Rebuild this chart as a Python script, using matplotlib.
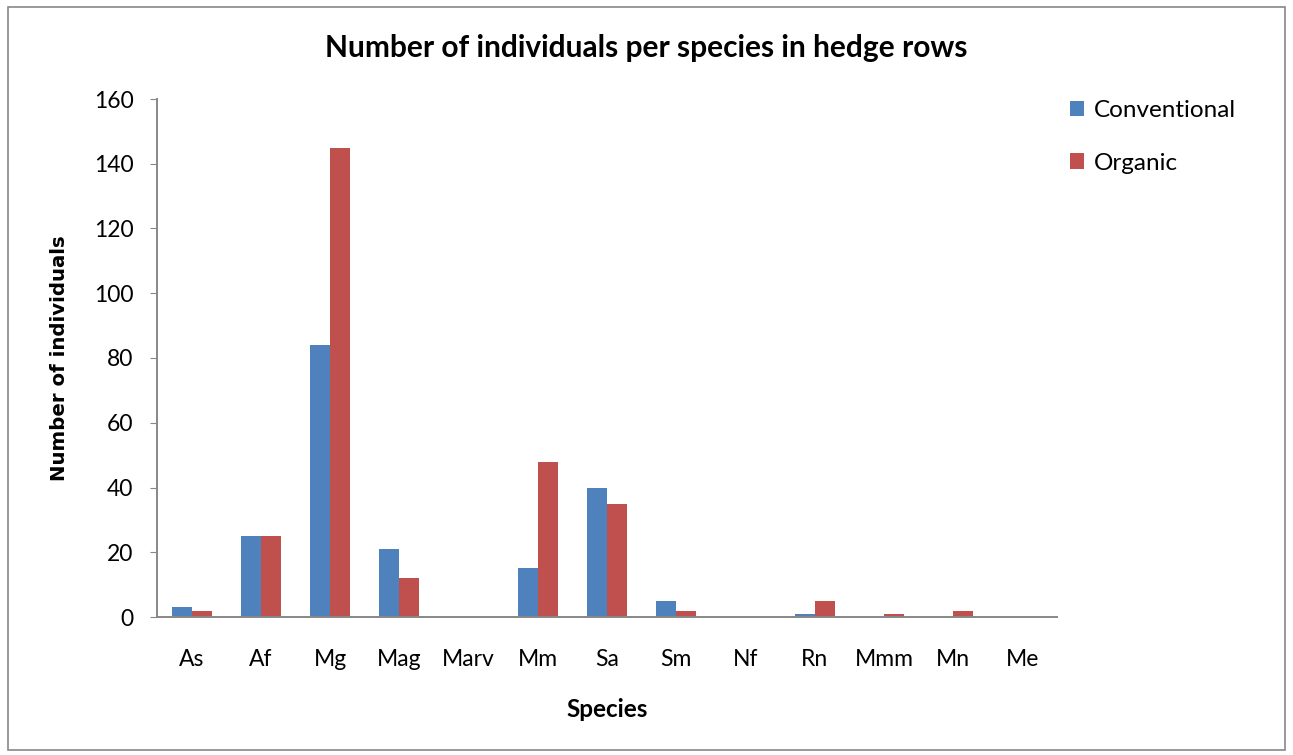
import matplotlib.pyplot as plt
from matplotlib.patches import Rectangle
import numpy as np

species = ["As", "Af", "Mg", "Mag", "Marv", "Mm", "Sa", "Sm", "Nf", "Rn", "Mmm", "Mn", "Me"]
conventional = [3, 25, 84, 21, 0, 15, 40, 5, 0, 1, 0, 0, 0]
organic = [2, 25, 145, 12, 0, 48, 35, 2, 0, 5, 1, 2, 0]

plt.rcParams['font.family'] = ['Lato', 'DejaVu Sans']

fig = plt.figure(figsize=(12.93, 7.55), dpi=100)
ax = fig.add_axes([157 / 1293, 1 - 617 / 755, 900 / 1293, 518 / 755])

x = np.arange(len(species))
w = 0.29
ax.bar(x - w / 2, conventional, w, color="#4F81BD", label="Conventional")
ax.bar(x + w / 2, organic, w, color="#C0504D", label="Organic")

ax.set_xlim(-0.5, len(species) - 0.5)
ax.set_ylim(0, 160)
ax.set_yticks(range(0, 161, 20))
ax.set_xticks(x)
ax.set_xticklabels(species)
ax.tick_params(axis="x", length=0, pad=23, labelsize=16.5)
ax.tick_params(axis="y", length=5, color="#888888", labelsize=16.5, pad=12)

for s in ["top", "right"]:
    ax.spines[s].set_visible(False)
for s in ["left", "bottom"]:
    ax.spines[s].set_color("#888888")
    ax.spines[s].set_linewidth(1.4)

ax.set_xlabel("Species", fontsize=17.5, fontweight="bold", labelpad=20)
ax.set_ylabel("Number of individuals", fontsize=14.2, fontweight="bold",
              family="DejaVu Sans", labelpad=18)
fig.suptitle("Number of individuals per species in hedge rows",
             fontsize=21.5, fontweight="bold", y=0.955)

ax.legend(loc="upper left", bbox_to_anchor=(0.99, 1.04), frameon=False,
          fontsize=17.5, handlelength=0.6, handleheight=0.6, labelspacing=1.3,
          handletextpad=0.4)

fig.patches.append(Rectangle((0.006, 0.006), 0.988, 0.985, transform=fig.transFigure,
                             fill=False, edgecolor="#888888", linewidth=1.2))

fig.savefig("out.png", dpi=100)
